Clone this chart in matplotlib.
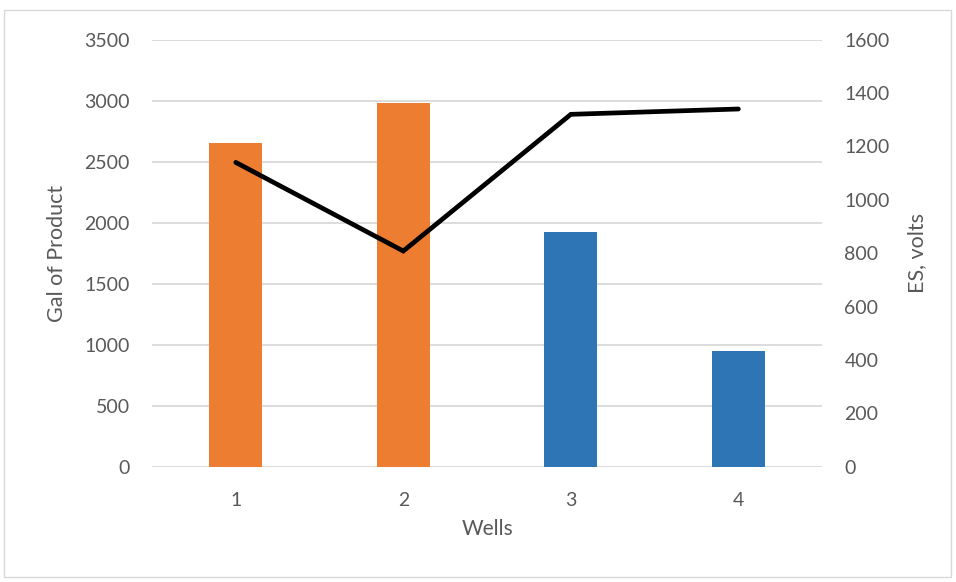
import matplotlib.pyplot as plt
from matplotlib.patches import Rectangle

# Data
wells = ["1", "2", "3", "4"]
gallons = [2650, 2980, 1925, 950]
es_volts = [1140, 808, 1320, 1340]
bar_colors = ["#ED7D31", "#ED7D31", "#2E75B6", "#2E75B6"]

text_color = "#595959"
grid_color = "#D9D9D9"
plt.rcParams["font.family"] = ["Lato", "DejaVu Sans"]

fig = plt.figure(figsize=(9.56, 5.82), dpi=100)
ax = fig.add_axes([0.159, 0.198, 0.701, 0.734])

x = list(range(len(wells)))
ax.bar(x, gallons, width=0.316, color=bar_colors, zorder=2)
ax.set_xlim(-0.5, len(wells) - 0.5)
ax.set_ylim(0, 3500)
ax.set_yticks(range(0, 3501, 500))
ax.set_xticks(x)
ax.set_xticklabels(wells)
ax.grid(axis="y", color=grid_color, linewidth=1.3, zorder=0)
ax.set_axisbelow(True)

ax2 = ax.twinx()
ax2.plot(x, es_volts, color="black", linewidth=3.4,
         solid_capstyle="round", solid_joinstyle="miter", zorder=3)
ax2.set_ylim(0, 1600)
ax2.set_yticks(range(0, 1601, 200))

for a in (ax, ax2):
    for s in a.spines.values():
        s.set_visible(False)
    a.tick_params(length=0, colors=text_color, labelsize=14)
ax.tick_params(axis="y", pad=16)
ax2.tick_params(axis="y", pad=16)
ax.tick_params(axis="x", pad=18)

ax.set_xlabel("Wells", fontsize=15, color=text_color, va="center")
ax.set_ylabel("Gal of Product", fontsize=15.5, color=text_color, va="center")
ax2.set_ylabel("ES, volts", fontsize=15.5, color=text_color, va="center")
ax.xaxis.set_label_coords(0.5, -0.146)
ax.yaxis.set_label_coords(-0.142, 0.5)
ax2.yaxis.set_label_coords(1.142, 0.5)

# chart border
fig.add_artist(Rectangle((4 / 956, 5 / 582), 947 / 956, 567 / 582,
                         transform=fig.transFigure, fill=False,
                         edgecolor=grid_color, linewidth=1))

fig.savefig("out.png", dpi=100)
